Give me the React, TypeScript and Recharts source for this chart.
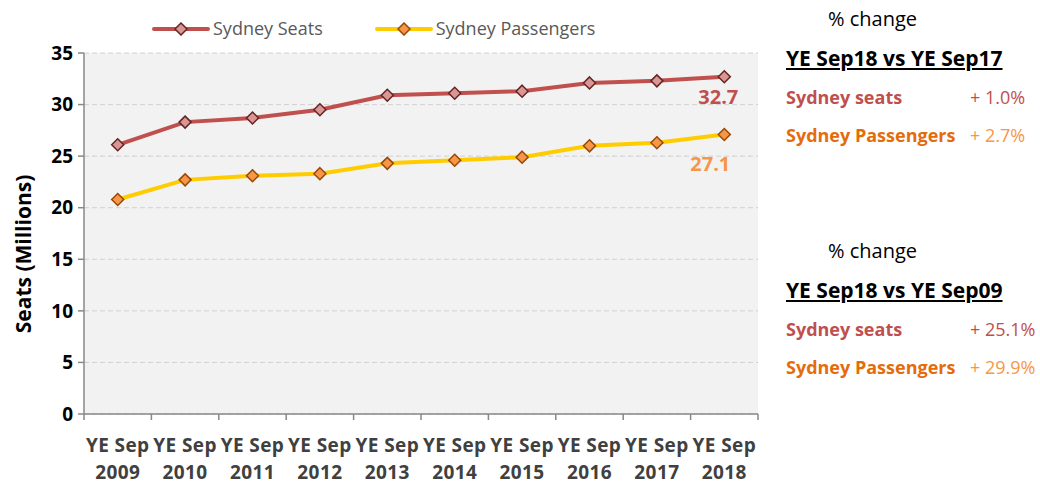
import { CartesianGrid, LabelList, Legend, Line, LineChart, XAxis, YAxis } from "recharts";

const years = ["2009", "2010", "2011", "2012", "2013", "2014", "2015", "2016", "2017", "2018"];
const seats = [26.1, 28.3, 28.7, 29.5, 30.9, 31.1, 31.3, 32.1, 32.3, 32.7];
const passengers = [20.8, 22.7, 23.1, 23.3, 24.3, 24.6, 24.9, 26.0, 26.3, 27.1];
const yTicks = [0, 5, 10, 15, 20, 25, 30, 35];

const changePanels = [
  { heading: "YE Sep18 vs YE Sep17", seats: "+ 1.0%", passengers: "+ 2.7%" },
  { heading: "YE Sep18 vs YE Sep09", seats: "+ 25.1%", passengers: "+ 29.9%" },
];

const data = years.map((year, i) => ({
  year,
  seats: seats[i],
  passengers: passengers[i],
}));

const FONT = "'Open Sans', Lato, sans-serif";
const RED = "#c0504d";
const YELLOW = "#ffcc00";
const ORANGE = "#f79646";

const Diamond = (fill: string, stroke: string) =>
  function DiamondDot(props: any) {
    const { cx, cy, index } = props;
    if (cx == null || cy == null) return null;
    const r = 6;
    return (
      <polygon
        key={index}
        points={`${cx},${cy - r} ${cx + r},${cy} ${cx},${cy + r} ${cx - r},${cy}`}
        fill={fill}
        stroke={stroke}
        strokeWidth={1.5}
      />
    );
  };

function XTick(props: any) {
  const { x, y, payload, index, visibleTicksCount } = props;
  const half = payload?.offset || 33.7;
  const last = index === (visibleTicksCount ?? years.length) - 1;
  return (
    <g>
      <line x1={x - half} x2={x - half} y1={y - 8} y2={y - 2} stroke="#888" strokeWidth={1.5} />
      {last && <line x1={x + half} x2={x + half} y1={y - 8} y2={y - 2} stroke="#888" strokeWidth={1.5} />}
      <text x={x} y={y + 30} textAnchor="middle" fontFamily={FONT} fontWeight={700} fontSize={19} letterSpacing={0.4} fill="#404040">
        YE Sep
      </text>
      <text x={x} y={y + 57} textAnchor="middle" fontFamily={FONT} fontWeight={700} fontSize={19} letterSpacing={0.4} fill="#404040">
        {payload.value}
      </text>
    </g>
  );
}

function LegendContent() {
  const items = [
    { name: "Sydney Seats", line: RED, fill: "#d99694", stroke: "#632523" },
    { name: "Sydney Passengers", line: YELLOW, fill: ORANGE, stroke: "#984807" },
  ];
  return (
    <div style={{ display: "flex", gap: 52, fontFamily: FONT, fontSize: 18, lineHeight: "23px", color: "#595959", paddingLeft: 152 }}>
      {items.map((it) => (
        <div key={it.name} style={{ display: "flex", alignItems: "center", gap: 3 }}>
          <svg width={58} height={14}>
            <line x1={2} x2={56} y1={7} y2={7} stroke={it.line} strokeWidth={4} strokeLinecap="round" />
            <polygon points="29,1 35,7 29,13 23,7" fill={it.fill} stroke={it.stroke} strokeWidth={1.5} />
          </svg>
          <span>{it.name}</span>
        </div>
      ))}
    </div>
  );
}

function lastLabel(color: string, dx: number, dy: number) {
  return function LastLabel(props: any) {
    const { x, y, value, index } = props;
    if (index !== years.length - 1) return null;
    return (
      <text x={x + dx} y={y + dy} textAnchor="middle" dominantBaseline="central" fontFamily={FONT} fontWeight={700} fontSize={20} fill={color}>
        {Number(value).toFixed(1)}
      </text>
    );
  };
}

const lineBox = (center: number, h: number) => ({ position: "absolute" as const, top: center - h / 2, height: h, lineHeight: `${h}px`, whiteSpace: "nowrap" as const });

export default function App() {
  return (
    <div style={{ position: "absolute", left: 0, top: 0, width: 1040, height: 484, background: "#fff", fontFamily: FONT }}>
      <LineChart width={780} height={484} data={data} margin={{ top: 30, right: 22, bottom: 0, left: 0 }}>
        <CartesianGrid vertical={false} stroke="#d0d0d0" strokeDasharray="5 3" fill="#f2f2f2" />
        <XAxis
          dataKey="year"
          scale="band"
          height={70}
          interval={0}
          tickLine={false}
          axisLine={{ stroke: "#888", strokeWidth: 1.5 }}
          tick={<XTick />}
        />
        <YAxis
          width={84}
          domain={[0, 35]}
          ticks={yTicks}
          interval={0}
          tickSize={6}
          tickMargin={5}
          axisLine={{ stroke: "#888", strokeWidth: 1.5 }}
          tickLine={{ stroke: "#888", strokeWidth: 1.5 }}
          tick={{ fontFamily: FONT, fontWeight: 700, fontSize: 19, fill: "#000" }}
          label={{
            content: () => (
              <text
                x={23}
                y={254}
                transform="rotate(-90, 23, 254)"
                textAnchor="middle"
                dominantBaseline="central"
                fontFamily={FONT}
                fontWeight={700}
                fontSize={21}
                fill="#000"
              >
                Seats (Millions)
              </text>
            ),
          }}
        />
        <Legend verticalAlign="top" align="left" wrapperStyle={{ top: 17, left: 0 }} content={<LegendContent />} />
        <Line
          dataKey="seats"
          name="Sydney Seats"
          stroke={RED}
          strokeWidth={4}
          dot={Diamond("#d99694", "#632523")}
          activeDot={false}
          isAnimationActive={false}
        >
          <LabelList dataKey="seats" content={lastLabel(RED, -6, 20)} />
        </Line>
        <Line
          dataKey="passengers"
          name="Sydney Passengers"
          stroke={YELLOW}
          strokeWidth={4}
          dot={Diamond(ORANGE, "#984807")}
          activeDot={false}
          isAnimationActive={false}
        >
          <LabelList dataKey="passengers" content={lastLabel(ORANGE, -14, 29)} />
        </Line>
      </LineChart>

      {changePanels.map((p, i) => (
        <div key={p.heading} style={{ position: "absolute", left: 786, top: i * 232, width: 250, height: 200 }}>
          <div style={{ ...lineBox(19, 26), left: 42, fontSize: 20, color: "#000" }}>% change</div>
          <div style={{ ...lineBox(58, 28), left: 0, fontSize: 21, fontWeight: 700, textDecoration: "underline", color: "#000" }}>
            {p.heading}
          </div>
          <div style={{ ...lineBox(97, 24), left: 0, fontSize: 18, fontWeight: 700, color: RED }}>Sydney seats</div>
          <div style={{ ...lineBox(97, 24), left: 184, fontSize: 18, color: RED }}>{p.seats}</div>
          <div style={{ ...lineBox(135, 24), left: 0, fontSize: 18, fontWeight: 700, color: "#e46c0a" }}>Sydney Passengers</div>
          <div style={{ ...lineBox(135, 24), left: 184, fontSize: 18, color: ORANGE }}>{p.passengers}</div>
        </div>
      ))}
    </div>
  );
}
